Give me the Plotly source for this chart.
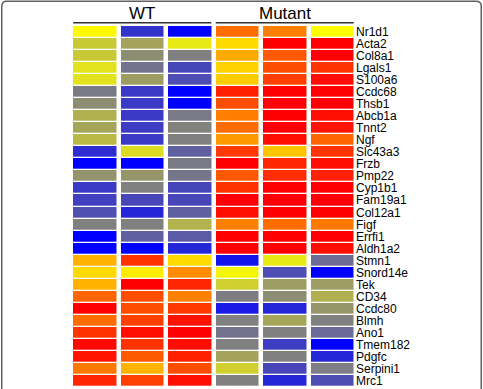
import plotly.graph_objects as go

genes = ["Nr1d1", "Acta2", "Col8a1", "Lgals1", "S100a6", "Ccdc68", "Thsb1", "Abcb1a",
         "Tnnt2", "Ngf", "Slc43a3", "Frzb", "Pmp22", "Cyp1b1", "Fam19a1", "Col12a1",
         "Figf", "Errfi1", "Aldh1a2", "Stmn1", "Snord14e", "Tek", "CD34", "Ccdc80",
         "Blmh", "Ano1", "Tmem182", "Pdgfc", "Serpini1", "Mrc1"]
samples = ["WT1", "WT2", "WT3", "Mut1", "Mut2", "Mut3"]
groups = ["WT", "Mutant"]

wt1 = [1.05, 0.15, 0.15, 0.55, 0.55, -1.1, -0.8, -0.25, -0.4, -0.1,
       -2.3, -3.0, -0.7, -2.1, -2.0, -1.75, -1.0, -3.0, -3.0, 1.6,
       1.3, 1.6, 2.2, 3.0, 2.15, 2.6, 2.95, 2.85, 2.05, 2.7]
wt2 = [-2.2, -0.45, -0.8, -1.2, -0.55, -2.1, -2.1, -2.1, -2.05, -2.1,
       0.45, -3.0, -0.65, -1.0, -1.9, -2.4, -1.0, -1.5, -3.0, 2.6,
       1.15, 3.0, 2.4, 2.4, 2.5, 2.9, 2.6, 2.3, 1.6, 2.5]
wt3 = [-2.95, 0.65, -1.0, -1.9, -1.8, -3.0, -3.0, -1.1, -0.95, -1.0,
       -1.5, -1.1, -1.15, -1.9, -1.9, -1.5, -0.2, -1.6, -2.4, 1.3,
       1.9, 2.7, 2.0, 2.55, 2.85, 3.0, 2.9, 2.75, 2.4, 2.9]
mut1 = [2.15, 1.3, 1.67, 1.35, 1.4, 2.75, 2.4, 2.0, 2.15, 1.8,
        2.55, 3.0, 2.3, 2.6, 3.0, 2.9, 2.0, 3.0, 3.0, -2.7,
        0.85, 0.25, -1.05, -2.6, -1.0, -1.2, -1.0, -0.45, 0.25, -1.0]
mut2 = [2.0, 3.0, 2.3, 2.4, 2.5, 3.0, 3.0, 3.0, 3.0, 2.9,
        1.45, 2.7, 2.65, 3.0, 3.0, 3.0, 2.15, 3.0, 3.0, 0.65,
        -1.8, -0.55, -0.8, -2.4, -0.4, -1.0, -2.05, -1.0, -1.9, -2.4]
mut3 = [1.0, 3.0, 3.0, 2.6, 2.9, 3.0, 3.0, 2.9, 2.85, 2.2,
        2.6, 2.9, 2.75, 3.0, 3.0, 3.0, 2.05, 3.0, 2.9, -1.3,
        -3.0, -0.55, -0.25, -0.65, -1.0, -1.35, -3.0, -2.4, -1.05, -1.8]

cols = [wt1, wt2, wt3, mut1, mut2, mut3]
z = [[c[i] for c in cols] for i in range(len(genes))]

W, H = 483, 389
L, R, T, B = 70.75, 127.25, 24.25, 0
pw, ph = W - L - R, H - T - B


def px(x):
    return (x - L) / pw


def py(y):
    return (H - B - y) / ph


fig = go.Figure(go.Heatmap(
    z=z, x=samples, y=genes,
    colorscale=[[0, "rgb(0,0,255)"], [1 / 3, "rgb(128,128,128)"],
                [2 / 3, "rgb(255,255,0)"], [1, "rgb(255,0,0)"]],
    zmin=-3, zmax=3, showscale=False, xgap=4.5, ygap=1.3,
    hoverinfo="skip"))

font = "Liberation Sans, Arial, sans-serif"
annotations = []
for g in genes:
    annotations.append(dict(x=1, xref="paper", y=g, yref="y", text=g,
                            xanchor="left", yanchor="middle", showarrow=False,
                            xshift=-1, borderpad=0,
                            font=dict(family=font, size=12, color="black")))

shapes = []
half = 0.453
for gi, name in enumerate(groups):
    c0 = gi * 3
    annotations.append(dict(x=c0 + 1, xref="x", y=py(13.5), yref="paper",
                            text=name, showarrow=False, xanchor="center",
                            yanchor="middle",
                            font=dict(family=font, size=17, color="black")))
    shapes.append(dict(type="line", xref="x", yref="paper",
                       x0=c0 - half, x1=c0 + 2 + half, y0=py(23), y1=py(23),
                       line=dict(color="rgb(50,50,50)", width=1.6)))

# rounded frame
x0, x1, yt, yb, r = px(1.5), px(481), py(1.5), py(400), 5
rx, ry = r / pw, r / ph
path = (f"M {x0},{yb} L {x0},{yt - ry} Q {x0},{yt} {x0 + rx},{yt} "
        f"L {x1 - rx},{yt} Q {x1},{yt} {x1},{yt - ry} L {x1},{yb}")
shapes.append(dict(type="path", xref="paper", yref="paper", path=path,
                   line=dict(color="rgb(95,95,95)", width=1.5)))

fig.update_layout(
    width=W, height=H,
    margin=dict(l=L, r=R, t=T, b=B),
    paper_bgcolor="white", plot_bgcolor="white",
    xaxis=dict(visible=False),
    yaxis=dict(visible=False, autorange="reversed"),
    annotations=annotations, shapes=shapes,
)

fig.write_html("out.html")
